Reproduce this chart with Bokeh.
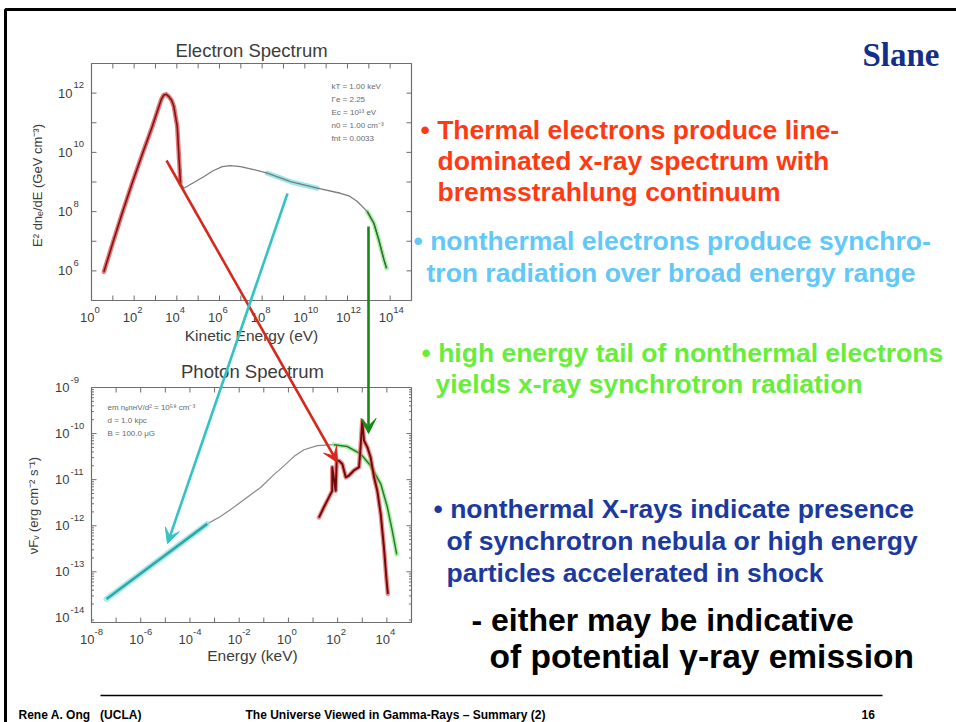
import numpy as np
from bokeh.plotting import figure
from bokeh.models import Range1d, LogScale, Arrow, VeeHead
from bokeh.core.properties import value
from bokeh.embed import file_html
from bokeh.resources import INLINE

# ---------------------------------------------------------------- data
# Electron spectrum: log10 kinetic energy [eV] vs log10 E^2 dn_e/dE [GeV cm^-3]
thermal_e_logE = [0.58, 1.0, 1.44, 1.9, 2.38, 2.85, 3.16, 3.28, 3.39, 3.5, 3.62, 3.76, 3.86,
                  4.02, 4.09, 4.17]
thermal_e_logN = [5.97, 6.95, 7.95, 8.95, 9.94, 10.87, 11.55, 11.80, 11.94, 11.96, 11.89,
                  11.75, 11.55, 10.87, 9.97, 8.96]
nonthermal_e_logE = [4.17, 4.33, 5.2, 5.7, 6.13, 6.5, 6.99, 7.6, 8.24, 9.33, 10.58, 11.67,
                     12.1, 12.46, 12.93, 13.24, 13.47, 13.71, 13.83]
nonthermal_e_logN = [8.96, 8.79, 9.15, 9.38, 9.52, 9.55, 9.52, 9.42, 9.30, 9.01, 8.79, 8.62,
                     8.52, 8.34, 8.0, 7.6, 7.04, 6.37, 6.09]

# Photon spectrum: log10 energy [keV] vs log10 nuF_nu [erg cm^-2 s^-1]
synch_p_logE = [-7.39, -3.30, -2.76, -2.22, -1.67, -1.13, -0.59, -0.18, 0.22, 0.63,
                1.17, 1.85]
synch_p_logF = [-13.59, -11.96, -11.80, -11.60, -11.38, -11.17, -10.89, -10.70, -10.50,
                -10.35, -10.26, -10.24]
xsynch_p_logE = [1.85, 2.39, 2.93, 3.34, 3.75, 4.02, 4.22, 4.40]
xsynch_p_logF = [-10.24, -10.28, -10.44, -10.70, -11.09, -11.60, -12.11, -12.62]
thermal_p_logE = [1.24, 1.44, 1.65, 1.78, 1.78, 1.92, 1.96, 2.05, 2.19, 2.33, 2.46, 2.66,
                  2.87, 2.93, 3.00, 3.07, 3.21, 3.34, 3.48, 3.61, 3.75, 3.88, 3.99, 4.04]
thermal_p_logF = [-11.82, -11.60, -11.38, -11.24, -10.73, -11.24, -10.59, -10.59, -10.66,
                  -10.95, -10.91, -10.80, -10.73, -10.30, -9.72, -10.15, -10.30, -10.52,
                  -10.95, -11.24, -11.75, -12.47, -13.20, -13.48]

# axis decades
e_x_major = list(range(1, 15))
e_x_labels = [0, 2, 4, 6, 8, 10, 12, 14]
e_y_major = list(range(6, 13))
e_y_labels = [6, 8, 10, 12]
p_x_major = list(range(-7, 5))
p_x_labels = [-8, -6, -4, -2, 0, 2, 4]
p_y_major = list(range(-13, -9))
p_y_labels = [-9, -10, -11, -12, -13, -14]

e_params = ["kT = 1.00 keV", "\u0393e = 2.25", "Ec = 10\u00b9\u00b3 eV",
            "n0 = 1.00 cm\u207b\u00b3", "fnt = 0.0033"]
p_params = ["em n\u2091n\u029cV/d\u00b2 = 10\u2075\u2078 cm\u207b\u00b3", "d = 1.0 kpc",
            "B = 100.0 \u03bcG"]

# ---------------------------------------------------------------- canvas
W, H = 956, 722
SANS = "Liberation Sans"
INK = "#3c3c3c"
FRAME = "#6e6e6e"

p = figure(width=W, height=H, x_range=Range1d(0, W), y_range=Range1d(H, 0),
           x_axis_type=None, y_axis_type=None, toolbar_location=None,
           output_backend="svg", min_border=0, outline_line_color=None)
p.background_fill_color = "white"
p.border_fill_color = "white"
p.grid.visible = False

# slide border and footer rule
p.quad(left=[5], right=[W + 10], top=[9], bottom=[H + 10], fill_color=None,
       line_color="black", line_width=3)
p.segment(x0=[100], y0=[695], x1=[882], y1=[695], line_color="black", line_width=1.5)


class LogPanel:
    """A log-log panel living inside a pixel box of the slide canvas."""

    def __init__(self, name, xlim, ylim, left, right, top, bottom):
        self.xlim, self.ylim = xlim, ylim
        lx0, lx1 = np.log10(xlim)
        ly0, ly1 = np.log10(ylim)
        self.ppx = (right - left) / (lx1 - lx0)
        self.ppy = (bottom - top) / (ly1 - ly0)
        xr = Range1d(10 ** (lx0 - left / self.ppx), 10 ** (lx1 + (W - right) / self.ppx))
        yr = Range1d(10 ** (ly0 - (H - bottom) / self.ppy), 10 ** (ly1 + top / self.ppy))
        p.extra_x_ranges[name + "x"] = xr
        p.extra_y_ranges[name + "y"] = yr
        p.extra_x_scales[name + "x"] = LogScale()
        p.extra_y_scales[name + "y"] = LogScale()
        self.kw = dict(x_range_name=name + "x", y_range_name=name + "y")

    def __getattr__(self, glyph):
        fn = getattr(p, glyph)
        return lambda **kw: fn(**kw, **self.kw)


def draw_frame(sub, x_major, y_major, y_minor=False):
    xlim, ylim = sub.xlim, sub.ylim
    sub.quad(left=[xlim[0]], right=[xlim[1]], bottom=[ylim[0]], top=[ylim[1]],
             fill_color=None, line_color=FRAME, line_width=1.2)
    fx = 10 ** (5 / sub.ppx)
    fy = 10 ** (5 / sub.ppy)
    xs = 10.0 ** np.array(x_major)
    ys = 10.0 ** np.array(y_major)
    kw = dict(line_color=FRAME, line_width=1)
    sub.segment(x0=xs, y0=[ylim[0]] * len(xs), x1=xs, y1=[ylim[0] * fy] * len(xs), **kw)
    sub.segment(x0=xs, y0=[ylim[1]] * len(xs), x1=xs, y1=[ylim[1] / fy] * len(xs), **kw)
    sub.segment(x0=[xlim[0]] * len(ys), y0=ys, x1=[xlim[0] * fx] * len(ys), y1=ys, **kw)
    sub.segment(x0=[xlim[1]] * len(ys), y0=ys, x1=[xlim[1] / fx] * len(ys), y1=ys, **kw)
    if y_minor:
        lo, hi = int(np.floor(np.log10(ylim[0]))), int(np.ceil(np.log10(ylim[1])))
        mv = np.array([m * 10.0 ** d for d in range(lo, hi) for m in range(2, 10)])
        mv = mv[(mv > ylim[0]) & (mv < ylim[1])]
        f2 = 10 ** (2.5 / sub.ppx)
        sub.segment(x0=[xlim[0]] * len(mv), y0=mv, x1=[xlim[0] * f2] * len(mv), y1=mv, **kw)
        sub.segment(x0=[xlim[1]] * len(mv), y0=mv, x1=[xlim[1] / f2] * len(mv), y1=mv, **kw)


def tick_labels(sub, x_labels, y_labels, y_base_dx, y_exp_dx):
    xlim, ylim = sub.xlim, sub.ylim
    xs = 10.0 ** np.array(x_labels, dtype=float)
    ys = 10.0 ** np.array(y_labels, dtype=float)
    common = dict(text_font=value(SANS), text_color=INK, text_baseline="middle")
    sub.text(x=xs, y=[ylim[0]] * len(xs), text=["10"] * len(xs), x_offset=3, y_offset=17,
             text_align="right", text_font_size="13px", **common)
    sub.text(x=xs, y=[ylim[0]] * len(xs), text=[str(v) for v in x_labels], x_offset=3,
             y_offset=9, text_align="left", text_font_size="9.5px", **common)
    sub.text(x=[xlim[0]] * len(ys), y=ys, text=["10"] * len(ys), x_offset=y_base_dx,
             y_offset=0, text_align="right", text_font_size="13px", **common)
    sub.text(x=[xlim[0]] * len(ys), y=ys, text=[str(v) for v in y_labels], x_offset=y_exp_dx,
             y_offset=-8, text_align="left", text_font_size="9.5px", **common)


def glow(sub, x, y, halo, core, halo_w, core_w):
    sub.line(x=x, y=y, line_color=halo, line_width=halo_w, line_alpha=0.75,
             line_join="round", line_cap="round")
    sub.line(x=x, y=y, line_color=core, line_width=core_w, line_join="round")


# ---------------------------------------------------------------- electron spectrum
es = LogPanel("e", (1e0, 1e15), (1e5, 1e13), 91, 411, 63, 300)
draw_frame(es, e_x_major, e_y_major)
tick_labels(es, e_x_labels, e_y_labels, -19, -18)

teE = 10.0 ** np.array(thermal_e_logE)
teN = 10.0 ** np.array(thermal_e_logN)
ntE = np.array(nonthermal_e_logE)
ntN = np.array(nonthermal_e_logN)
cyan_e = (ntE >= 8.2) & (ntE <= 10.6)
green_e = ntE >= 12.9
es.line(x=10 ** ntE[cyan_e], y=10 ** ntN[cyan_e], line_color="#7fe0e6", line_width=5,
        line_alpha=0.8, line_cap="round")
es.line(x=10 ** ntE[green_e], y=10 ** ntN[green_e], line_color="#8ff08a", line_width=4.5,
        line_alpha=0.8, line_cap="round")
es.line(x=10 ** ntE, y=10 ** ntN, line_color="#7c7c7c", line_width=1.3, line_join="round")
es.line(x=10 ** ntE[green_e], y=10 ** ntN[green_e], line_color="#2f6f2f", line_width=1.4)
glow(es, teE, teN, "#e24848", "#7a1616", 4.5, 1.6)

p.text(x=[251], y=[50], text=["Electron Spectrum"], text_font=value(SANS),
       text_font_size="18.5px", text_color=INK, text_align="center", text_baseline="middle")
p.text(x=[251], y=[335], text=["Kinetic Energy (eV)"], text_font=value(SANS),
       text_font_size="15.5px", text_color=INK, text_align="center", text_baseline="middle")
p.text(x=[37], y=[185], text=["E\u00b2 dn\u2091/dE (GeV cm\u207b\u00b3)"], angle=np.pi / 2,
       text_font=value(SANS), text_font_size="13px", text_color=INK,
       text_align="center", text_baseline="middle")
p.text(x=[331] * len(e_params), y=[86 + 13 * i for i in range(len(e_params))], text=e_params,
       text_font=value(SANS), text_font_size="8px", text_color="#6a6a6a",
       text_align="left", text_baseline="middle")

# ---------------------------------------------------------------- photon spectrum
ps = LogPanel("p", (1e-8, 1e5), (10 ** -14.1, 1e-9), 91, 411, 387, 622)
draw_frame(ps, p_x_major, p_y_major, y_minor=True)
tick_labels(ps, p_x_labels, p_y_labels, -22, -21)

sE = np.array(synch_p_logE)
sF = np.array(synch_p_logF)
radio = sE <= -3.3
ps.line(x=10 ** sE, y=10 ** sF, line_color="#8a8a8a", line_width=1.2, line_join="round")
glow(ps, 10 ** sE[radio], 10 ** sF[radio], "#95e3e3", "#2ea9a9", 6, 2.6)
glow(ps, 10.0 ** np.array(xsynch_p_logE), 10.0 ** np.array(xsynch_p_logF),
     "#8fee8a", "#2c7a2c", 4.5, 1.5)
glow(ps, 10.0 ** np.array(thermal_p_logE), 10.0 ** np.array(thermal_p_logF),
     "#e86464", "#6e0c0c", 4.5, 2.0)

p.text(x=[252], y=[371], text=["Photon Spectrum"], text_font=value(SANS),
       text_font_size="18.5px", text_color=INK, text_align="center", text_baseline="middle")
p.text(x=[252], y=[655], text=["Energy (keV)"], text_font=value(SANS),
       text_font_size="15.5px", text_color=INK, text_align="center", text_baseline="middle")
p.text(x=[33], y=[505], text=["\u03bdF\u1d65 (erg cm\u207b\u00b2 s\u207b\u00b9)"],
       angle=np.pi / 2, text_font=value(SANS), text_font_size="13px", text_color=INK,
       text_align="center", text_baseline="middle")
p.text(x=[107] * len(p_params), y=[407 + 13 * i for i in range(len(p_params))], text=p_params,
       text_font=value(SANS), text_font_size="8px", text_color="#6a6a6a",
       text_align="left", text_baseline="middle")

# ---------------------------------------------------------------- arrows linking the panels
for (x0, y0, x1, y1, c) in [(166, 160, 337, 462, "#d42a1e"),
                            (287, 193, 167, 543, "#33c3c3"),
                            (368, 226, 368, 433, "#148a14")]:
    p.add_layout(Arrow(x_start=x0, y_start=y0, x_end=x1, y_end=y1, line_color=c,
                       line_width=2.6,
                       end=VeeHead(size=15, fill_color=c, line_color=c, line_width=1)))

# ---------------------------------------------------------------- slide text
p.text(x=[862], y=[54], text=["Slane"], text_font=value("Liberation Serif"),
       text_font_style="bold", text_font_size="33px", text_color="#142f8a",
       text_align="left", text_baseline="alphabetic")

bullets = [
    (420, 129, "\u2022 Thermal electrons produce line-", "#ff3a12"),
    (437, 160, "dominated x-ray spectrum with", "#ff3a12"),
    (437, 191, "bremsstrahlung continuum", "#ff3a12"),
    (413, 240, "\u2022 nonthermal electrons produce synchro-", "#62c8f8"),
    (426, 272, "tron radiation over broad energy range", "#62c8f8"),
    (421, 352, "\u2022 high energy tail of nonthermal electrons", "#66ee3a"),
    (435, 383, "yields x-ray synchrotron radiation", "#66ee3a"),
    (433, 508, "\u2022 nonthermal X-rays indicate presence", "#1c3a9e"),
    (446, 540, "of synchrotron nebula or high energy", "#1c3a9e"),
    (446, 572, "particles accelerated in shock", "#1c3a9e"),
]
for x, y, t, c in bullets:
    p.text(x=[x], y=[y], text=[t], text_font=value(SANS), text_font_style="bold",
           text_font_size="26.5px", text_color=c, text_align="left", text_baseline="alphabetic")

for x, y, t, fs in [(471, 619, "- either may be indicative", "32px"),
                    (489, 656, "of potential \u03b3-ray emission", "33.5px")]:
    p.text(x=[x], y=[y], text=[t], text_font=value(SANS), text_font_style="bold",
           text_font_size=fs, text_color="black", text_align="left",
           text_baseline="alphabetic")

# footer
for x, t in [(18, "Rene A. Ong\u00a0\u00a0 (UCLA)"),
             (245, "The Universe Viewed in Gamma-Rays \u2013 Summary (2)"),
             (861, "16")]:
    p.text(x=[x], y=[714], text=[t], text_font=value(SANS), text_font_style="bold",
           text_font_size="12px", text_color="black", text_align="left",
           text_baseline="middle")

open("out.html", "w").write(file_html(p, INLINE))
